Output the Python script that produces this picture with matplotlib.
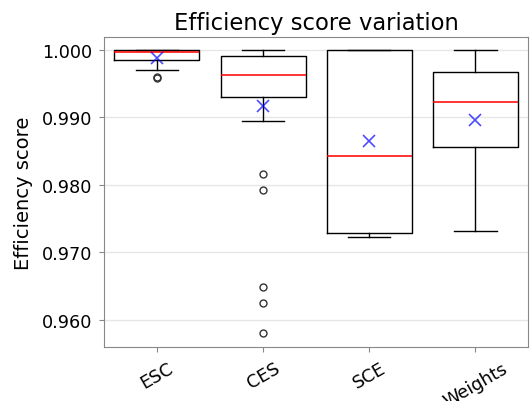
import matplotlib
matplotlib.use("Agg")
import matplotlib.pyplot as plt

# values
methods = ["ESC", "CES", "SCE", "Weights"]
whislo = [0.99704, 0.98944, 0.97230, 0.97314]
q1 = [0.99857, 0.99304, 0.97289, 0.98563]
med = [0.99966, 0.99630, 0.98425, 0.99235]
q3 = [1.00000, 0.99916, 1.00000, 0.99670]
whishi = [1.00000, 1.00000, 1.00000, 1.00000]
means = [0.99877, 0.99166, 0.98656, 0.98968]
fliers = [
    [0.9960, 0.9959],
    [0.98163, 0.97922, 0.96485, 0.96242, 0.95803],
    [],
    [],
]
yticks = [0.960, 0.970, 0.980, 0.990, 1.000]

stats = []
for i, name in enumerate(methods):
    stats.append(dict(label=name, whislo=whislo[i], q1=q1[i], med=med[i],
                      q3=q3[i], whishi=whishi[i], mean=means[i],
                      fliers=fliers[i]))

fig, ax = plt.subplots(figsize=(5.3, 4.02), dpi=100)
fig.subplots_adjust(left=0.196, right=0.997, top=0.905, bottom=0.134)

ax.bxp(stats, positions=range(1, 5), widths=0.8, showmeans=True,
       boxprops=dict(color="black", linewidth=1.0),
       whiskerprops=dict(color="black", linewidth=1.0),
       capprops=dict(color="black", linewidth=1.0),
       medianprops=dict(color="red", linewidth=1.4, alpha=0.8),
       meanprops=dict(marker="x", markeredgecolor="blue", markersize=8,
                      alpha=0.7, markeredgewidth=1.2),
       flierprops=dict(marker="o", markerfacecolor="none",
                       markeredgecolor="#333333", markersize=5))

ax.set_xlim(0.5, 4.5)
ax.set_ylim(0.9559, 1.0019)
ax.set_yticks(yticks)
ax.set_yticklabels([f"{v:.3f}" for v in yticks], fontsize=12.7)
ax.set_xticklabels(methods, rotation=30, fontsize=12.7)
ax.yaxis.grid(True, color="#e6e6e6", linewidth=1)
ax.set_axisbelow(True)
for s in ax.spines.values():
    s.set_color("#888888")
ax.tick_params(color="#888888", pad=5)
ax.set_ylabel("Efficiency score", fontsize=14, labelpad=6)
ax.set_title("Efficiency score variation", fontsize=16.3)

fig.savefig("out.png")
